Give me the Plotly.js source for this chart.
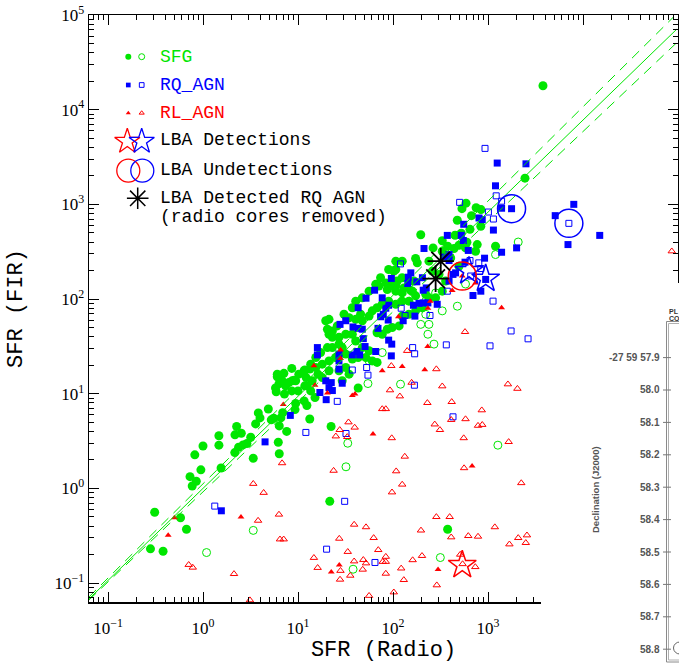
<!DOCTYPE html>
<html><head><meta charset="utf-8">
<script src="https://cdn.plot.ly/plotly-3.0.1.min.js"></script>
<style>html,body{margin:0;padding:0;background:#fff;overflow:hidden}#chart{width:679px;height:665px}</style>
</head><body><div id="chart"></div>
<script>
const GREEN = '#00e600', BLUE = '#0000ff', RED = '#ff0000', BLACK = '#000000';

// [SFR(Radio), SFR(FIR)] pairs
const sfgFilled = [
 [3790,17900],[2450,1890],[587,1030],[532,900],[750,920],[844,880],[670,760],[475,680],[840,587],[646,545],
 [1200,361],[770,376],[330,413],[439,342],[196,477],[450,472],[376,361],[495,370],[580,347],[740,320],
 [330,320],[239,251],[173,268],[107,205],[166,155],[107,137],[102,155],[130,131],[160,121],[221,112],
 [495,222],[405,272],[523,495],[600,398],[264,347],[180,241],[125,168],[111,155],[98,137],[87,126],
 [107,121],[125,116],[154,123],[173,108],[147,95],[125,95],[107,88],[90,95],[77,88],[68,81],
 [60.5,75],[56,66],[45.6,69],[47.5,59],[40.5,61],[34.5,63.5],[25.9,52],[23,46],[21.2,42.5],[19.6,59],
 [20.4,48],[23,39.5],[27,39.5],[31.8,42.5],[37.3,42.5],[40.5,36],[47.5,30.7],[56,28.4],[51.8,24.1],[60.5,22.2],
 [68,21.4],[43,24.1],[37.3,23.2],[31.8,26.2],[29.2,30.7],[27,33.4],[23,30.7],[20.4,30.7],[17.3,27.2],[15.4,24.1],
 [13.6,20.5],[13.3,18.2],[11.6,17.5],[10.2,16.1],[9.45,13.7],[8.0,13.1],[6.8,13.7],[6.05,16.1],[6.3,12.7],[7.4,12.1],
 [15.4,18.9],[18,20.5],[21.2,22.2],[25,24.1],[21.2,17.5],[27,17.5],[31.8,18.9],[34.5,16.1],[29.2,13.7],[18,14.8],
 [14.1,13.7],[12.5,12.1],[68,44],[77,42.5],[87,48],[98,50],[116,52],[125,66],[147,69],[173,75],
 [204,81],[239,103],[281,103],[330,121],[358,155],[305,182],[259,197],[125,251],[107,251],[90,205],
 [74,168],[65.8,143],[56,121],[47.5,103],[40.5,95],[37.3,81],[30.5,69],[21.2,61],[102,197],[84,148],[71,137],
 [0.31,0.56],[0.58,0.49],[0.67,0.37],[0.28,0.23],[0.38,0.217],[0.82,2.26],[1.0,2.8],[0.95,1.57],[0.73,1.33],[0.85,1.19],
 [0.77,1.06],[1.47,3.6],[1.47,2.86],[1.55,1.64],[2.26,4.5],[2.17,3.68],[2.53,3.82],[2.16,2.39],[2.37,2.72],[2.64,2.88],
 [2.9,2.98],[3.18,3.47],[3.38,2.08],[3.82,6.27],[3.58,4.8],[3.98,5.55],[4.87,6.9],[5.23,5.3],[6.35,4.57],[7.6,4.0],
 [6.2,3.07],[6.35,2.32],[6.05,15.1],[7.1,16.4],[8.6,18.5],[9.1,13.9],[11.8,17.8],[12.2,14.8],[16.2,16.1],[5.8,11.5],
 [5.9,10.5],[7.2,9.9],[8.6,10.7],[10,10.7],[11.8,12.1],[13.6,10.7],[11.6,8.4],[12.4,7.5],[15.1,9.1],[9.3,6.8],
 [6.9,6.3],[5.55,5.5],[13.3,5.4],[6.6,5.55],[9.45,7.9],[8.7,13.7],[22.3,4.5],[43,11.5],[21.6,0.73],[376,0.37]
];
const sfgOpen = [
 [54.5,12.8],[120,12.6],[33.4,3.0],[32,1.69],[1270,2.86],[315,0.186],[38,0.14],[3.38,0.36],[1.09,0.21],[2080,400],
 [1200,295],[580,144],[476,84],[281,116],[221,95],[196,54],[233,42.5],[270,33.4],[77,27.2],[56,22.2],
 [188,82],[221,69],[330,75],[239,54]
];
const rqFilled = [
 [1250,2730],[2510,2680],[1200,1570],[1390,910],[1770,900],[8000,1000],[5100,760],[15000,470],[6950,376],[555,616],
 [1140,535],[2000,347],[1390,312],[373,470],[523,470],[550,415],[804,718],[870,690],[620,326],[920,270],
 [389,295],[945,161],[840,121],[695,109],[292,88],[573,245],[428,182],[212,342],[345,277],[389,255],
 [96,165],[154,189],[145,170],[204,168],[224,131],[77,103],[456,189],[389,155],[143,146],[178,152],
 [208,124],[64,124],[52,102],[43,81],[84,80],[90,86],[74,65],[79,69],[89,60],[164,86],
 [188,90],[207,91],[233,91],[128,59],[170,66],[31.8,59],[27.7,54],[37.9,50.7],[43,49],[47.5,48],
 [69.5,49],[90,36.8],[97,33.4],[48.7,38.2],[50.8,31.5],[44.6,25.7],[37.3,25.7],[41.7,27.9],[65.8,27.9],[96,25.1],
 [16,30.7],[16,25.7],[27,26.2],[27,22.2],[27,18.2],[19.6,13.7],[22.4,13.1],[29.2,12.9],[8.3,5.9],[4.5,3.1],
 [1.56,0.58],[17,10.3],[19.8,8.65],[23,10.8],[21.2,11.6]
];
const rqOpen = [
 [168,12.3],[25.9,8.3],[12.1,3.9],[32,3.8],[428,5.7],[31,0.73],[20,0.228],[64.6,0.165],[1.33,0.65],[120,235],
 [122,80],[134,67],[245,67],[364,32.8],[161,30.7],[169,26.4],[52.8,18.9],[54.5,15.7],[37.3,17.8],[373,121],
 [930,3900],[503,1050],[1220,1230],[1390,1080],[1010,830],[1140,700],[7100,630],[646,255],[800,241],[840,210],
 [658,175],[1130,95],[1750,46],[1050,32],[2640,38]
];
const rlFilled = [
 [15.1,12.3],[20.4,10.2],[37.3,9.6],[39.8,9.9],[61.6,3.76],[680,1.72],[27.2,0.155],[22.4,0.131],[298,0.139],[0.50,0.49],
 [0.43,0.32],[2.51,0.50],[7.0,7.7],[14.7,19.7],[247,95],[233,80],[114,65],[232,31.5],[28.1,29],[28.1,23.5],
 [77,17.5],[125,19.4],[216,17.9],[536,175],[740,148],[420,123],[1390,81]
];
const rlOpen = [
 [86000,320],[93,10.9],[118,9.4],[330,12],[230,8.0],[415,8.2],[1620,12.6],[2040,11.3],[860,6.7],[77,6.9],
 [84,6.9],[580,5.4],[275,4.75],[312,4.15],[410,5.3],[785,4.6],[870,4.7],[34,5.0],[39.5,4.4],[27.5,4.15],
 [25,3.55],[33,3.5],[97,3.4],[555,3.4],[1650,3.1],[133,2.17],[23.7,1.54],[108,1.52],[560,1.64],[125,1.10],
 [97.6,0.91],[2240,1.14],[286,0.50],[395,0.50],[1180,0.39],[39,0.415],[52,0.39],[197,0.36],[27.2,0.295],[62.6,0.30],
 [410,0.305],[620,0.315],[785,0.31],[1680,0.257],[2080,0.30],[2570,0.32],[2500,0.266],[14.7,0.185],[33.4,0.214],[70,0.224],
 [84,0.19],[16.1,0.145],[39,0.17],[48.7,0.176],[52,0.162],[78,0.168],[84,0.168],[161,0.175],[202,0.194],[510,0.20],
 [540,0.159],[735,0.148],[28,0.135],[48,0.139],[122,0.143],[84,0.126],[35.5,0.12],[27.7,0.109],[130,0.108],[289,0.095],
 [56,0.0735],[102,0.080],[6.8,1.85],[3.38,1.12],[4.35,0.90],[6.3,0.53],[3.8,0.457],[6.46,0.29],[7.07,0.29],[0.707,0.156],
 [0.78,0.146],[2.12,0.125],[3.12,0.066],[141,28.4],[96,19.7],[286,18.2],[157,13.1],[573,45]
];
const lbaDetRed = [[536,0.155]];
const lbaDetBlue = [[945,164],[631,197]];
const lbaUndetRed = [[536,175]];
const lbaUndetBlue = [[1770,900],[7100,630]];
const lbaRqCoresRemoved = [[318,251],[281,164]];

// relation lines (end points)
const fitRadio = [0.063, 97700], fitFIR = [0.068, 71300];
const upperRadio = [0.063, 89700], upperFIR = [0.0713, 95300];
const lowerRadio = [0.063, 97700], lowerFIR = [0.0662, 51400];

const decadeVals = [0.1, 1, 10, 100, 1000, 10000, 100000];
const decadeText = ['10<sup>\u22121</sup>','10<sup>0</sup>','10<sup>1</sup>','10<sup>2</sup>','10<sup>3</sup>','10<sup>4</sup>','10<sup>5</sup>'];

const legendLabels = ['SFG','RQ_AGN','RL_AGN','LBA Detections','LBA Undetections','LBA Detected RQ AGN','(radio cores removed)'];
const decLabels = ['-27 59 57.9','58.0','58.1','58.2','58.3','58.4','58.5','58.6','58.7','58.8'];

// ---------- build ----------
const xs = a => a.map(p => p[0]);
const ys = a => a.map(p => p[1]);
function pts(arr, symbol, size, color, lw) {
  return {type:'scatter', mode:'markers', x:xs(arr), y:ys(arr), hoverinfo:'skip', showlegend:false,
    marker:{symbol:symbol, size:size, color:color, line:{color:color, width:lw}}};
}
function line(x, y, dash) {
  return {type:'scatter', mode:'lines', x:x, y:y, hoverinfo:'skip', showlegend:false,
    line:{color:GREEN, width:1, dash:dash}};
}
const traces = [
  pts(sfgOpen, 'circle-open', 8, GREEN, 1),
  pts(sfgFilled, 'circle', 9, GREEN, 0),
  pts(rqOpen, 'square-open', 6, BLUE, 1),
  pts(rqFilled, 'square', 7, BLUE, 0),
  pts(rlOpen, 'triangle-up-open', 6.5, RED, 1),
  pts(rlFilled, 'triangle-up', 6, RED, 0),
  line(fitRadio, fitFIR, 'solid'),
  line(upperRadio, upperFIR, '10px,7px'),
  line(lowerRadio, lowerFIR, '10px,7px'),
  pts(lbaDetRed, 'star-open', 21, RED, 1.5),
  pts(lbaDetBlue, 'star-open', 21, BLUE, 1.5),
  pts(lbaUndetRed, 'circle-open', 28, RED, 1.5),
  pts(lbaUndetBlue, 'circle-open', 28, BLUE, 1.5),
  pts(lbaRqCoresRemoved, 'asterisk-open', 22, BLACK, 1.8)
];

// legend drawn on a hidden pixel-like overlay axis pair
function lg(x, y, symbol, size, color, lw) {
  return {type:'scatter', mode:'markers', x:[x], y:[y], xaxis:'x2', yaxis:'y2', hoverinfo:'skip', showlegend:false,
    marker:{symbol:symbol, size:size, color:color, line:{color:color, width:lw}}};
}
traces.push(
  lg(128.3, 56.7, 'circle', 6, GREEN, 0), lg(141.7, 56.7, 'circle-open', 6, GREEN, 1),
  lg(128.3, 85, 'square', 4.7, BLUE, 0), lg(141.7, 85, 'square-open', 4.7, BLUE, 1),
  lg(128.3, 113, 'triangle-up', 4.5, RED, 0), lg(141.7, 113, 'triangle-up-open', 4.5, RED, 1),
  lg(127.3, 141.5, 'star-open', 19, RED, 1.3), lg(141.7, 141.5, 'star-open', 19, BLUE, 1.3),
  lg(128.3, 170.7, 'circle-open', 23, RED, 1.3), lg(142.3, 170.7, 'circle-open', 23, BLUE, 1.3),
  lg(137.7, 198.3, 'asterisk-open', 18, BLACK, 1.5)
);

const legendColors = [GREEN, BLUE, RED, BLACK, BLACK, BLACK, BLACK];
const legendY = [57, 85, 113, 140, 170, 198, 217];
const annotations = legendLabels.map((t, i) => ({
  xref:'x2', yref:'y2', x:157.5, y:legendY[i], text:t, showarrow:false, xanchor:'left', yanchor:'middle',
  font:{family:'Liberation Mono, Courier New, monospace', size:18, color:legendColors[i]}
}));

// overlapping second-figure fragment (pixel helpers for layout positions)
const PX = p => (p - 89) / 589;
const PY = p => (602 - p) / 587;
const shapes = [
  {type:'rect', xref:'paper', yref:'paper', x0:PX(541), x1:PX(720), y0:PY(720), y1:PY(283), layer:'above',
   fillcolor:'#ffffff', line:{width:0}},
  {type:'rect', xref:'paper', yref:'paper', x0:PX(666.5), x1:PX(720), y0:PY(662), y1:PY(321.5), layer:'above',
   fillcolor:'rgba(0,0,0,0)', line:{color:'#8a8a8a', width:1}},
  {type:'rect', xref:'paper', yref:'paper', x0:PX(668.5), x1:PX(720), y0:PY(660), y1:PY(323.5), layer:'above',
   fillcolor:'rgba(0,0,0,0)', line:{color:'#b0b0b0', width:1}},
  {type:'circle', xref:'paper', yref:'paper', x0:PX(673.5), x1:PX(686), y0:PY(654), y1:PY(642), layer:'above',
   fillcolor:'rgba(0,0,0,0)', line:{color:'#666', width:1}}
];
decLabels.forEach((t, i) => {
  const yy = 357.6 + 32.4 * i;
  shapes.push({type:'line', xref:'paper', yref:'paper', x0:PX(663), x1:PX(671), y0:PY(yy), y1:PY(yy), layer:'above',
    line:{color:'#777', width:1}});
  annotations.push({xref:'paper', yref:'paper', x:PX(662), y:PY(yy), text:'<b>' + t + '</b>', showarrow:false, xanchor:'right', yanchor:'middle',
    font:{family:'Liberation Sans, Arial, sans-serif', size:10, color:'#555'}});
});
annotations.push(
  {xref:'paper', yref:'paper', x:PX(595), y:PY(490), text:'<b>Declination (J2000)</b>', textangle:-90, showarrow:false,
   xanchor:'center', yanchor:'middle', font:{family:'Liberation Sans, Arial, sans-serif', size:9.5, color:'#555'}},
  {xref:'paper', yref:'paper', x:PX(667), y:PY(311.5), text:'<b>PL</b>', showarrow:false, xanchor:'left', yanchor:'middle',
   font:{family:'Liberation Sans, Arial, sans-serif', size:7, color:'#333'}},
  {xref:'paper', yref:'paper', x:PX(667), y:PY(318), text:'<b>CO</b>', showarrow:false, xanchor:'left', yanchor:'middle',
   font:{family:'Liberation Sans, Arial, sans-serif', size:7, color:'#333'}}
);

const minorVals = [];
[0.01, 0.1, 1, 10, 100, 1000, 10000].forEach(d => { for (let k = 2; k <= 9; k++) minorVals.push(k * d); });

function logAxis(title, standoff, labelPad) {
  return {
    type:'log', range:[-1.2, 5], autorange:false, showgrid:false, zeroline:false,
    showline:true, linecolor:BLACK, linewidth:1.5, mirror:'allticks',
    ticks:'inside', ticklen:10, tickwidth:1, tickcolor:BLACK, ticklabelstandoff:labelPad,
    tickmode:'array', tickvals:decadeVals, ticktext:decadeText,
    tickfont:{family:'Liberation Serif, Times New Roman, serif', size:17, color:BLACK},
    minor:{ticks:'inside', ticklen:5, tickwidth:1, tickcolor:BLACK, tickmode:'array', tickvals:minorVals, showgrid:false},
    title:{text:title, standoff:standoff, font:{family:'Liberation Mono, Courier New, monospace', size:22, color:BLACK}}
  };
}

const layout = {
  width:679, height:665, margin:{l:89, r:1, t:15, b:63},
  paper_bgcolor:'#ffffff', plot_bgcolor:'#ffffff', showlegend:false,
  xaxis: logAxis('SFR (Radio)', 2, 10),
  yaxis: logAxis('SFR (FIR)', 25, 0),
  xaxis2:{overlaying:'x', range:[89, 678], visible:false, fixedrange:true},
  yaxis2:{overlaying:'y', range:[602, 15], visible:false, fixedrange:true},
  shapes:shapes, annotations:annotations
};

Plotly.newPlot('chart', traces, layout, {displayModeBar:false, staticPlot:true});
</script></body></html>
